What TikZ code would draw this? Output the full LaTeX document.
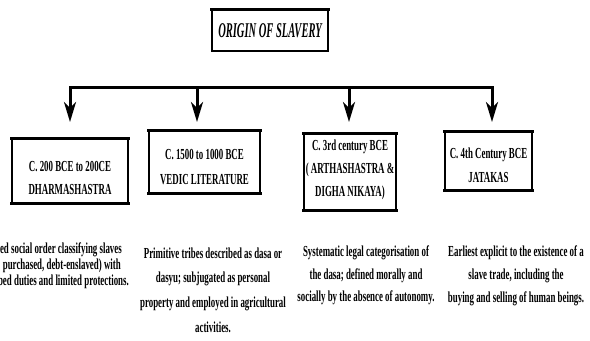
\documentclass[tikz,border=0pt]{standalone}
\usepackage{fontspec}
\setmainfont{Liberation Serif}[FakeStretch=0.58]
\newfontfamily\titlefont{Liberation Serif}[FakeStretch=0.5]
\usetikzlibrary{arrows.meta}

\tikzset{
  headbox/.style={draw, line width=1.4bp, minimum width=116bp, minimum height=41bp, inner sep=0,
    font=\titlefont\fontsize{21bp}{25bp}\selectfont\bfseries\itshape,
    append after command={(\tikzlastnode.north west) edge[line width=3bp, line cap=rect] (\tikzlastnode.north east)}},
  era/.style 2 args={draw, line width=1.8bp, minimum width=#1, minimum height=#2, inner sep=0,
    append after command={(\tikzlastnode.north west) edge[line width=3bp, line cap=rect] (\tikzlastnode.north east)
      (\tikzlastnode.south west) edge[line width=3bp, line cap=rect] (\tikzlastnode.south east)}},
  eratext/.style={font=\fontsize{15.3bp}{#1}\selectfont\bfseries, align=center, inner sep=0},
  desc/.style={font=\fontsize{15.3bp}{#1}\selectfont\bfseries, align=center, inner sep=0},
  bus/.style={line width=3bp, line cap=rect},
  drop/.style={line width=3bp, -{Stealth[length=20bp, width=12bp, inset=6bp]}}
}

\begin{document}
\begin{tikzpicture}[x=1bp, y=-1bp]
  \useasboundingbox (0,0) rectangle (590,340);

  \node[headbox] (origin) at (270,30.5) {ORIGIN OF SLAVERY};

  \foreach \i/\x in {1/70, 2/197, 3/349, 4/492} {
    \coordinate (j\i) at (\x,87);
    \coordinate (d\i) at (\x,122);
  }
  \draw[bus] (j1) -- (j4);
  \foreach \i in {1,...,4}
    \draw[drop] (j\i) -- (d\i);

  \node[era={116bp}{64bp}, label={[eratext=23bp, yshift=-7bp]center:{C. 200 BCE to 200CE\\DHARMASHASTRA}}] (dharma) at (70,171) {};
  \node[era={111bp}{62bp}, label={[eratext=25bp, yshift=-5.5bp]center:{C. 1500 to 1000 BCE\\VEDIC LITERATURE}}] (vedic) at (204.5,162) {};
  \node[era={92bp}{76bp}, label={[eratext=23bp, yshift=2bp]center:{C. 3rd century BCE\\( ARTHASHASTRA \&\\DIGHA NIKAYA)}}] (artha) at (350,172) {};
  \node[era={87bp}{58bp}, label={[eratext=24bp, yshift=-4bp]center:{C. 4th Century BCE\\JATAKAS}}] (jataka) at (488.5,161) {};

  \node[desc=16bp, align=right, anchor=east] (dharmadesc) at (129,266)
    {ed social order classifying slaves\kern7bp\\purchased, debt-enslaved) with\kern8bp\\bed duties and limited protections.};
  \node[desc=24.7bp] (vedicdesc) at (213,290)
    {Primitive tribes described as dasa or\\dasyu; subjugated as personal\\property and employed in agricultural\\activities.};
  \node[desc=22.5bp] (arthadesc) at (366,275.5)
    {Systematic legal categorisation of\\the dasa; defined morally and\\socially by the absence of autonomy.};
  \node[desc=23bp] (jatakadesc) at (516,276)
    {Earliest explicit to the existence of a\\slave trade, including the\\buying and selling of human beings.};
\end{tikzpicture}
\end{document}
